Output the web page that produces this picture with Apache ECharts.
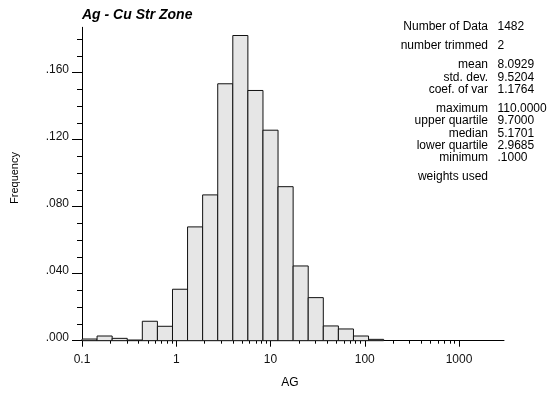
<!DOCTYPE html>
<html>
<head>
<meta charset="utf-8">
<script src="https://cdn.jsdelivr.net/npm/echarts@6/dist/echarts.min.js"></script>
<style>
html,body{margin:0;padding:0;background:#fff;}
#chart{width:548px;height:394px;}
</style>
</head>
<body>
<div id="chart"></div>
<script>
// Histogram bin edges (log-spaced) and relative frequencies
const binEdges = [0.1, 0.1445, 0.2089, 0.302, 0.4365, 0.631, 0.912, 1.318, 1.905, 2.754, 3.981,
                  5.754, 8.318, 12.02, 17.38, 25.12, 36.31, 52.48, 75.86, 109.6, 158.5];
const frequencies = [0.0010, 0.0028, 0.0014, 0.0004, 0.0116, 0.0086, 0.0307, 0.0679, 0.0870, 0.1533,
                     0.1821, 0.1493, 0.1256, 0.0919, 0.0446, 0.0257, 0.0088, 0.0070, 0.0028, 0.0008];

const xMajorTicks = [0.1, 1, 10, 100, 1000];
const xMinorTicks = [0.2,0.3,0.4,0.5,0.6,0.7,0.8,0.9, 2,3,4,5,6,7,8,9, 20,30,40,50,60,70,80,90, 200,300,400,500,600,700,800,900];
const yMajorTicks = [0, 0.04, 0.08, 0.12, 0.16];
const yMinorTicks = [0.01,0.02,0.03,0.05,0.06,0.07,0.09,0.10,0.11,0.13,0.14,0.15,0.17,0.18];

const titleText = 'Ag - Cu Str Zone';
const xName = 'AG';
const yName = 'Frequency';
const statLabels = ['Number of Data', 'number trimmed', 'mean', 'std. dev.', 'coef. of var',
                    'maximum', 'upper quartile', 'median', 'lower quartile', 'minimum', 'weights used'];
const statValues = ['1482', '2', '8.0929', '9.5204', '1.1764', '110.0000', '9.7000', '5.1701', '2.9685', '.1000', ''];
const statRowY = [27, 46, 65, 77.5, 90, 108.5, 121, 133.5, 146, 158, 177];

const FONT = 'Liberation Sans, Arial, sans-serif';
const chart = echarts.init(document.getElementById('chart'), null, {renderer: 'canvas'});

const barData = frequencies.map((f, i) => [binEdges[i], binEdges[i + 1], f]);

const graphics = [
  {type: 'text', left: 82, top: 8, style: {text: titleText, font: 'italic bold 14px ' + FONT, fill: '#000'}},
  {type: 'text', x: 290, y: 383, style: {text: xName, font: '12px ' + FONT, fill: '#000', align: 'center', verticalAlign: 'middle'}},
  {type: 'text', x: 14.5, y: 178, rotation: Math.PI / 2, style: {text: yName, font: '11px ' + FONT, fill: '#000', align: 'center', verticalAlign: 'middle'}}
];
statLabels.forEach((lab, i) => {
  graphics.push({type: 'text', x: 488, y: statRowY[i], style: {text: lab, font: '12px ' + FONT, fill: '#000', align: 'right', verticalAlign: 'middle'}});
  if (statValues[i]) {
    graphics.push({type: 'text', x: 497.5, y: statRowY[i], style: {text: statValues[i], font: '12px ' + FONT, fill: '#000', align: 'left', verticalAlign: 'middle'}});
  }
});

const axisLine = {show: true, lineStyle: {color: '#000', width: 1}};

chart.setOption({
  animation: false,
  backgroundColor: '#fff',
  grid: {left: 82, right: 44, top: 27.3, bottom: 53.3, containLabel: false},
  graphic: graphics,
  xAxis: [
    {
      type: 'log', logBase: 10, min: 0.1, max: 3000,
      axisLine: axisLine,
      axisTick: {show: true, length: 6, lineStyle: {color: '#000'}, customValues: xMajorTicks},
      axisLabel: {show: true, customValues: xMajorTicks, margin: 13, fontSize: 12, fontFamily: FONT, color: '#111',
                  formatter: v => String(v)},
      splitLine: {show: false}, minorTick: {show: false}
    },
    {
      type: 'log', logBase: 10, min: 0.1, max: 3000, position: 'bottom',
      axisLine: {show: false},
      axisTick: {show: true, length: 3, lineStyle: {color: '#000'}, customValues: xMinorTicks},
      axisLabel: {show: false},
      splitLine: {show: false}
    }
  ],
  yAxis: [
    {
      type: 'value', min: 0, max: 0.187, interval: 0.04,
      axisLine: axisLine,
      axisTick: {show: true, length: 10, lineStyle: {color: '#000'}, customValues: yMajorTicks},
      axisLabel: {show: true, customValues: yMajorTicks, margin: 13, fontSize: 12, fontFamily: FONT, color: '#111',
                  formatter: v => '{a|' + (v === 0 ? '.000' : v.toFixed(3).replace(/^0/, '')) + '}',
                  rich: {a: {fontSize: 12, fontFamily: FONT, color: '#111', padding: [0, 0, 6, 0]}}},
      splitLine: {show: false}
    },
    {
      type: 'value', min: 0, max: 0.187, position: 'left',
      axisLine: {show: false},
      axisTick: {show: true, length: 5, lineStyle: {color: '#000'}, customValues: yMinorTicks},
      axisLabel: {show: false},
      splitLine: {show: false}
    }
  ],
  series: [{
    type: 'custom',
    xAxisIndex: 0, yAxisIndex: 0,
    data: barData,
    encode: {x: [0, 1], y: 2},
    renderItem: function (params, api) {
      const p0 = api.coord([api.value(0), 0]);
      const p1 = api.coord([api.value(1), api.value(2)]);
      return {
        type: 'rect',
        shape: {x: p0[0], y: p1[1], width: p1[0] - p0[0], height: p0[1] - p1[1]},
        style: {fill: '#e6e6e6', stroke: '#111', lineWidth: 1}
      };
    }
  }]
});
</script>
</body>
</html>
